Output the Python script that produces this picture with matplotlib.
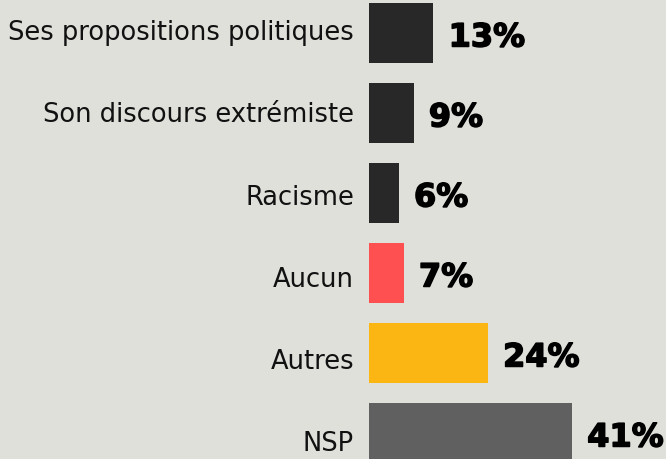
import matplotlib
matplotlib.use("Agg")
import matplotlib.pyplot as plt
import matplotlib.patheffects as pe

categories = ["Ses propositions politiques", "Son discours extrémiste", "Racisme",
              "Aucun", "Autres", "NSP"]
values = [13, 9, 6, 7, 24, 41]
colors = ["#282828", "#282828", "#282828", "#fe5050", "#fcb614", "#606060"]

bg = "#dfe0da"
fig = plt.figure(figsize=(6.66, 4.6), dpi=100, facecolor=bg)
ax = fig.add_axes([369 / 666, 0, 1 - 369 / 666, 1])
ax.set_facecolor(bg)

pos = list(range(len(categories)))
ax.barh(pos, values, height=0.75, color=colors)
ax.set_xlim(0, 297 / 4.95)
ax.set_ylim(5.325, -0.425)
for s in ax.spines.values():
    s.set_visible(False)
ax.set_xticks([])
ax.set_yticks([])

# category names: baselines a little below the bar centres, drifting down row by row
for i, name in enumerate(categories):
    ax.text(-15 / 4.95, i + (6 + 2.3 * i) / 80, name, ha="right", va="baseline",
            fontsize=18.5, family="DejaVu Sans", color="#111111")

heavy = [pe.withStroke(linewidth=1.1, foreground="black")]
for i, v in enumerate(values):
    ax.annotate(f"{v}%", (v, i), xytext=(11, -9.7), textcoords="offset points",
                ha="left", va="baseline", fontsize=23, fontweight="bold",
                family="DejaVu Sans", color="black", annotation_clip=False,
                path_effects=heavy)

fig.savefig("out.png", dpi=100, facecolor=bg)
